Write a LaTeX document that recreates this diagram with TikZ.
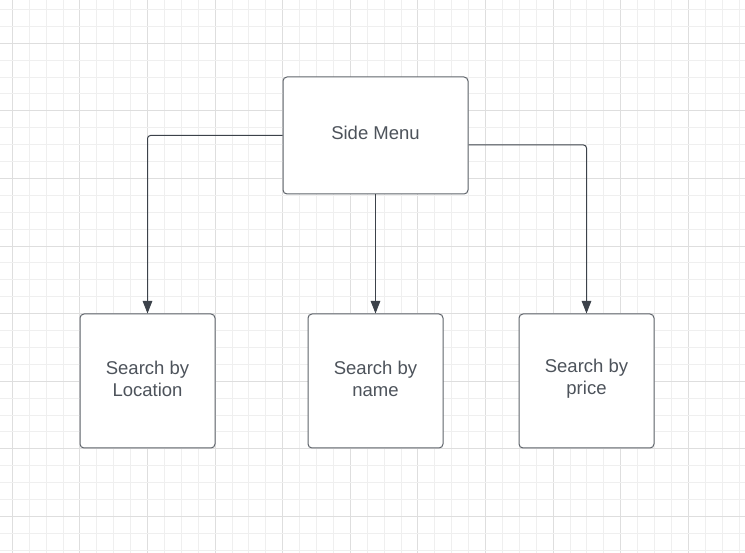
\documentclass[tikz,border=0pt]{standalone}
\usepackage{fontspec}
\setmainfont{Liberation Sans}
\usetikzlibrary{arrows.meta}
\definecolor{minorgrid}{HTML}{EFEFEF}
\definecolor{majorgrid}{HTML}{DEDEDE}
\definecolor{boxline}{HTML}{5F646B}
\definecolor{arrowline}{HTML}{3C424A}
\definecolor{txt}{HTML}{4D535B}
\tikzset{
  card/.style={draw=boxline, line width=1pt, fill=white, rounded corners=4pt,
    inner sep=0pt},
  cardtext/.style={align=center, text=txt, inner sep=0pt, yshift=2.5pt,
    font=\fontsize{18.5pt}{22pt}\selectfont},
  link/.style={draw=arrowline, line width=1pt, rounded corners=3pt,
    -{Triangle[width=9.5pt,length=12.5pt]}},
}
\begin{document}
\begin{tikzpicture}[x=1pt,y=-1pt]
\useasboundingbox (0,0) rectangle (745,553);
\fill[white] (0,0) rectangle (745,553);
% grid
\foreach \k in {0,...,44} {
  \pgfmathsetmacro{\gx}{12.35+16.9*\k}
  \pgfmathtruncatemacro{\m}{mod(\k,4)}
  \ifnum\m=0
    \draw[majorgrid, line width=1pt] (\gx,0) -- (\gx,553);
  \else
    \draw[minorgrid, line width=1pt] (\gx,0) -- (\gx,553);
  \fi
}
\foreach \k in {0,...,33} {
  \pgfmathsetmacro{\gy}{9.5+16.9*\k}
  \pgfmathtruncatemacro{\m}{mod(\k+2,4)}
  \ifnum\m=0
    \draw[majorgrid, line width=1pt] (0,\gy) -- (745,\gy);
  \else
    \draw[minorgrid, line width=1pt] (0,\gy) -- (745,\gy);
  \fi
}
% nodes
\node[card, minimum width=185pt, minimum height=117pt,
  label={[cardtext]center:Side Menu}] (side) at (375.5,135.5) {};
\node[card, minimum width=135pt, minimum height=134pt,
  label={[cardtext]center:{Search by\\Location}}] (loc) at (147.5,381) {};
\node[card, minimum width=135pt, minimum height=134pt,
  label={[cardtext]center:{Search by\\name}}] (name) at (375.5,381) {};
\node[card, minimum width=135pt, minimum height=134pt,
  label={[cardtext]center:{Search by\\price}}] (price) at (586.5,381) {};
% connectors
\draw[link] (side.west) -| (loc.north);
\draw[link] (side.south) -- (name.north);
\draw[link] ([yshift=-9.5pt]side.east) -| (price.north);
\end{tikzpicture}
\end{document}
